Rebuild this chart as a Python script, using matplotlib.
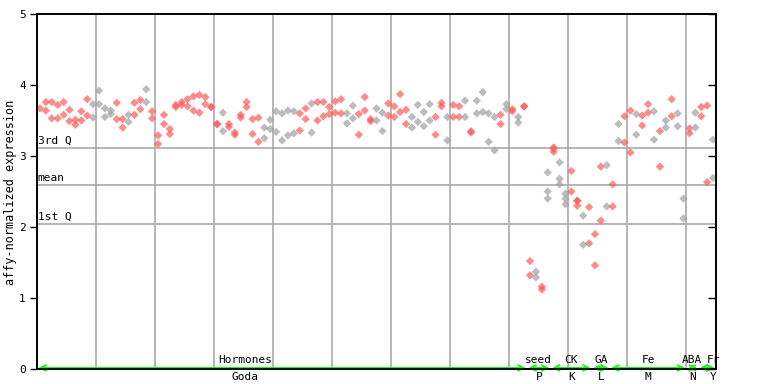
import matplotlib
matplotlib.use("Agg")
from matplotlib import pyplot as plt

# expression values, one inner list per sample column
hormones = [
    [3.67], [3.76, 3.64], [3.76, 3.53], [3.72, 3.53], [3.76, 3.58],
    [3.65, 3.49], [3.51, 3.44], [3.63, 3.50], [3.80, 3.57], [3.73, 3.54],
    [3.92, 3.73], [3.67, 3.55], [3.64, 3.59], [3.75, 3.52], [3.52, 3.40],
    [3.58, 3.48], [3.75, 3.58], [3.79, 3.66], [3.94, 3.76], [3.63, 3.53],
    [3.29, 3.17], [3.58, 3.45], [3.38, 3.31], [3.72, 3.69], [3.76, 3.72],
    [3.80, 3.70], [3.84, 3.64], [3.86, 3.61], [3.83, 3.73], [3.69, 3.69],
    [3.45, 3.45], [3.61, 3.35], [3.45, 3.41], [3.33, 3.30], [3.58, 3.54],
    [3.76, 3.69], [3.52, 3.31], [3.54, 3.20], [3.40, 3.25], [3.51, 3.38],
    [3.63, 3.34], [3.60, 3.22], [3.64, 3.29], [3.63, 3.32], [3.60, 3.36],
    [3.67, 3.52], [3.74, 3.33], [3.76, 3.50], [3.76, 3.56], [3.69, 3.59],
    [3.77, 3.61], [3.80, 3.60], [3.60, 3.46], [3.71, 3.53], [3.59, 3.30],
    [3.83, 3.64], [3.52, 3.49], [3.67, 3.50], [3.61, 3.35], [3.74, 3.57],
    [3.70, 3.55], [3.87, 3.62], [3.65, 3.45], [3.55, 3.40], [3.72, 3.48],
    [3.62, 3.42], [3.73, 3.50], [3.55, 3.30], [3.75, 3.70], [3.55, 3.22],
    [3.72, 3.55], [3.70, 3.55], [3.78, 3.55], [3.35, 3.33], [3.78, 3.60],
    [3.90, 3.62], [3.60, 3.20], [3.55, 3.08], [3.58, 3.45], [3.73, 3.66],
    [3.66, 3.63], [3.55, 3.47], [3.70, 3.70],
]
seed = [[1.52, 1.32], [1.37, 1.29], [1.16, 1.12], [2.77, 2.50, 2.40]]
ck = [[3.12, 3.10, 3.06], [2.91, 2.68, 2.60], [2.47, 2.40, 2.32],
      [2.79, 2.50], [2.37, 2.37, 2.30], [2.16, 1.75], [2.28, 1.77]]
ga = [[1.90, 1.46], [2.85, 2.09], [2.87, 2.29]]
fe = [[2.60, 2.29], [3.45, 3.21], [3.56, 3.19], [3.64, 3.05], [3.59, 3.30],
      [3.57, 3.43], [3.73, 3.61], [3.63, 3.23], [3.35, 2.85], [3.50, 3.40],
      [3.80, 3.56], [3.60, 3.42], [2.40, 2.12]]
aba = [[3.39, 3.32], [3.61, 3.40]]
fr = [[3.69, 3.56], [3.71, 2.63], [3.23, 2.69]]

groups = ["Hormones", "seed", "CK", "GA", "Fe", "ABA", "Fr"]
sources = ["Goda", "P", "K", "L", "M", "N", "Y"]
q3, mean, q1 = 3.11, 2.59, 2.04

# columns drawn in grey instead of red
grey_cols = [9, 10, 11, 12, 15, 18, 31, 38, 39, 40, 41, 42, 43, 46, 52, 53,
             57, 58, 63, 64, 65, 66, 69, 72, 74, 75, 76, 77, 79, 81, 84, 86,
             88, 89, 92, 96, 98, 101, 104, 106, 108, 109, 111, 114]

columns = hormones + seed + ck + ga + fe + aba + fr
sizes = [len(hormones), len(seed), len(ck), len(ga), len(fe), len(aba), len(fr)]

plt.rcParams["font.family"] = "DejaVu Sans Mono"
plt.rcParams["font.size"] = 8

fig = plt.figure(figsize=(7.68, 3.84), dpi=100)
ax = fig.add_axes([37 / 768, 15 / 384, 679 / 768, 355 / 384])

xs, ys, cs = [], [], []
for i, col in enumerate(columns):
    for v in col:
        xs.append(i + 0.5)
        ys.append(v)
        cs.append("#a0a0a0" if i in grey_cols else "#ff5a5a")
ax.scatter(xs, ys, marker="D", s=18, c=cs, alpha=0.7, linewidths=0, zorder=3)

ncol = len(columns)
ax.set_xlim(0, ncol)
ax.set_ylim(0, 5)
for gx in range(10, ncol, 10):
    ax.axvline(gx, color="#aaaaaa", lw=1.2, zorder=1)
for val, name in [(q3, "3rd Q"), (mean, "mean"), (q1, "1st Q")]:
    ax.axhline(val, color="#aaaaaa", lw=1.2, zorder=1)
    ax.text(0.1, val + 0.03, name, ha="left", va="bottom", fontsize=8)

ax.set_xticks([])
ax.set_yticks(range(6))
ax.tick_params(axis="y", direction="out", length=5, width=1, pad=3)
ax2 = ax.twinx()
ax2.set_ylim(0, 5)
ax2.set_yticks(range(6))
ax2.set_yticklabels([])
ax2.tick_params(axis="y", direction="in", length=6, width=1)
for a in (ax, ax2):
    for sp in a.spines.values():
        sp.set_linewidth(1.2)

fig.text(11 / 768, 0.5, "affy-normalized expression", rotation=90,
         ha="center", va="center", fontsize=8.5)

# experiment ranges along the bottom
label_shift = {"Fr": 1.0}
start = 0
for name, src, n in zip(groups, sources, sizes):
    end = start + n
    ax.annotate("", xy=(start + 0.2, 0.015), xytext=(end - 0.2, 0.015),
                arrowprops=dict(arrowstyle="<->,head_length=0.5,head_width=0.25",
                                color="#22ee22", lw=1.4, shrinkA=0, shrinkB=0),
                annotation_clip=False, zorder=5)
    cx = start + n / 2 + label_shift.get(name, 0)
    if name == "Hormones":
        cx = 35.3
    ax.text(cx, 0.05, name, ha="center", va="bottom", fontsize=8)
    ax.text(cx, -0.04, src, ha="center", va="top", fontsize=8)
    start = end

fig.savefig("out.png", dpi=100)
